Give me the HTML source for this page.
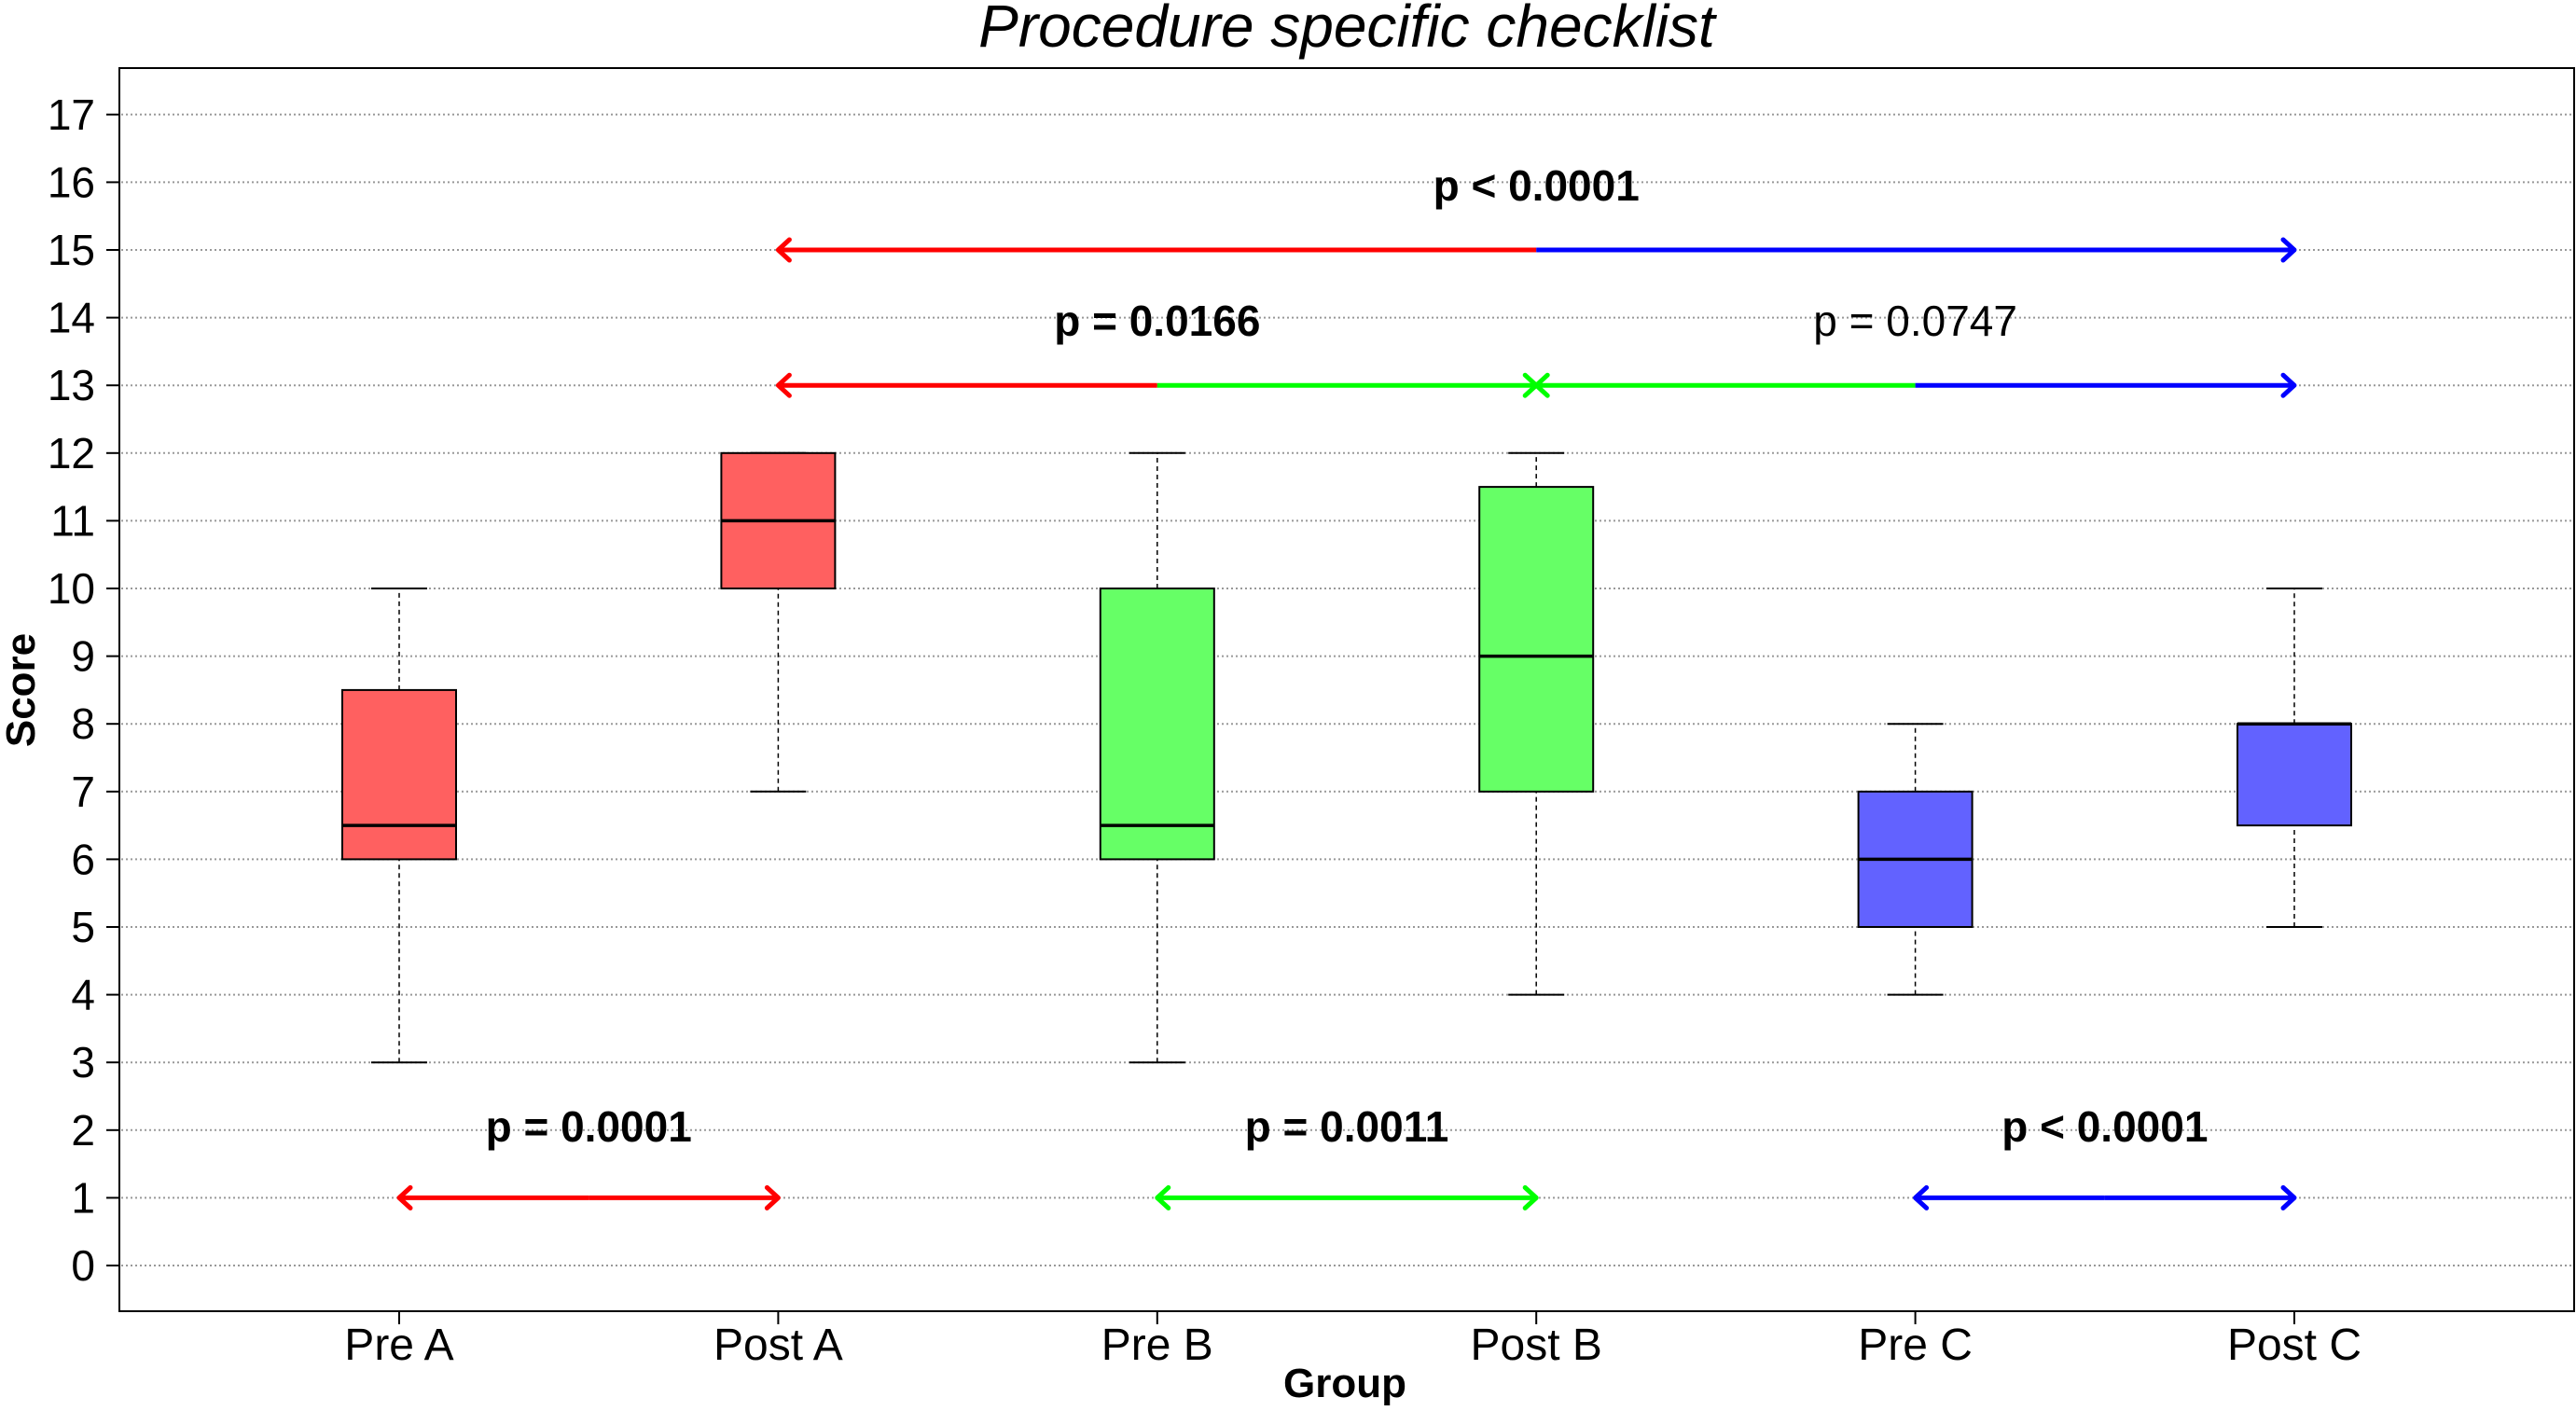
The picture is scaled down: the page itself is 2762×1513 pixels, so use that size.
<!DOCTYPE html>
<html><head><meta charset="utf-8"><style>
html,body{margin:0;padding:0;background:#fff;}
svg{display:block;font-family:"Liberation Sans",Arial,sans-serif;}
</style></head><body>
<svg id="chart" width="2762" height="1513" viewBox="0 0 2762 1513">
<text x="1444" y="50" font-size="64" font-style="italic" text-anchor="middle">Procedure specific checklist</text>
<g id="grid"></g>
<g id="yaxis"></g>
<g id="xaxis"></g>
<g id="boxes"></g>
<g id="arrows"></g>
<rect x="128" y="73" width="2632" height="1333" fill="none" stroke="#000" stroke-width="2"/>
<text x="1442" y="1498" font-size="44" font-weight="bold" text-anchor="middle">Group</text>
<text transform="translate(37,740) rotate(-90)" font-size="44" font-weight="bold" text-anchor="middle">Score</text>
</svg>
<script>
const categories=["Pre A","Post A","Pre B","Post B","Pre C","Post C"];
const whiskerLow=[3,7,3,4,4,5];
const q1=[6,10,6,7,5,6.5];
const medians=[6.5,11,6.5,9,6,8];
const q3=[8.5,12,10,11.5,7,8];
const whiskerHigh=[10,12,12,12,8,10];
const boxColors=["#ff6060","#ff6060","#66ff66","#66ff66","#6262ff","#6262ff"];
const yTicks=[0,1,2,3,4,5,6,7,8,9,10,11,12,13,14,15,16,17];
const cmpFrom=[0,2,4,1,3,1];
const cmpTo=[1,3,5,3,5,5];
const cmpY=[1,1,1,13,13,15];
const cmpLabels=["p = 0.0001","p = 0.0011","p < 0.0001","p = 0.0166","p = 0.0747","p < 0.0001"];
const cmpBold=[true,true,true,true,false,true];
const cmpLabelY=[2.05,2.05,2.05,13.95,13.95,15.95];

const NS="http://www.w3.org/2000/svg";
const X=i=>428+i*406.4;
const Y=v=>1357-v*72.6;
function mk(parent,tag,attrs){const e=document.createElementNS(NS,tag);for(const k in attrs)e.setAttribute(k,attrs[k]);parent.appendChild(e);return e;}
const grid=document.getElementById('grid'),ya=document.getElementById('yaxis'),xa=document.getElementById('xaxis'),bx=document.getElementById('boxes'),ar=document.getElementById('arrows');
yTicks.forEach(t=>{
  const g=mk(grid,'line',{x1:130,x2:2758,y1:Y(t),y2:Y(t),stroke:'#999','stroke-width':2,'stroke-dasharray':'2,3'});
  
  
  const tk=mk(ya,'line',{x1:114,x2:128,y1:Y(t),y2:Y(t),stroke:'#000','stroke-width':2});
  
  
  const tx=mk(ya,'text',{x:102,y:Y(t)+16,'font-size':46,'text-anchor':'end'});
  tx.textContent=t;
  
  
});
categories.forEach((c,i)=>{
  const x=X(i);
  const tk=mk(xa,'line',{x1:x,x2:x,y1:1406,y2:1420,stroke:'#000','stroke-width':2});
  
  
  const tx=mk(xa,'text',{x:x,y:1458,'font-size':48,'text-anchor':'middle'});
  tx.textContent=c;
  
  
  const g=mk(bx,'g',{});
  
  
  mk(g,'line',{x1:x,x2:x,y1:Y(whiskerLow[i]),y2:Y(q1[i]),stroke:'#000','stroke-width':1.5,'stroke-dasharray':'5,4'});
  mk(g,'line',{x1:x,x2:x,y1:Y(q3[i]),y2:Y(whiskerHigh[i]),stroke:'#000','stroke-width':1.5,'stroke-dasharray':'5,4'});
  mk(g,'line',{x1:x-30,x2:x+30,y1:Y(whiskerLow[i]),y2:Y(whiskerLow[i]),stroke:'#000','stroke-width':2});
  mk(g,'line',{x1:x-30,x2:x+30,y1:Y(whiskerHigh[i]),y2:Y(whiskerHigh[i]),stroke:'#000','stroke-width':2});
  mk(g,'rect',{x:x-61,y:Y(q3[i]),width:122,height:Y(q1[i])-Y(q3[i]),fill:boxColors[i],stroke:'#000','stroke-width':2});
  mk(g,'line',{x1:x-61,x2:x+61,y1:Y(medians[i]),y2:Y(medians[i]),stroke:'#000','stroke-width':3.5});
});
const lineCols=["#ff0000","#ff0000","#00ff00","#00ff00","#0000ff","#0000ff"];
function arrowHead(g,x,y,dir,col){mk(g,'polyline',{points:`${x-dir*12},${y-11} ${x},${y} ${x-dir*12},${y+11}`,fill:'none',stroke:col,'stroke-width':5,'stroke-linecap':'round','stroke-linejoin':'round'});}
cmpFrom.forEach((a,k)=>{
  const b=cmpTo[k],y=Y(cmpY[k]),x1=X(a),x2=X(b),mid=(x1+x2)/2;
  const g=mk(ar,'g',{});
  
  
  mk(g,'line',{x1:x1,x2:mid,y1:y,y2:y,stroke:lineCols[a],'stroke-width':5});
  mk(g,'line',{x1:mid,x2:x2,y1:y,y2:y,stroke:lineCols[b],'stroke-width':5});
  arrowHead(g,x1,y,-1,lineCols[a]);
  arrowHead(g,x2,y,1,lineCols[b]);
  const t=mk(g,'text',{x:mid,y:Y(cmpLabelY[k])+16,'font-size':46,'text-anchor':'middle','font-weight':cmpBold[k]?'bold':'normal'});
  t.textContent=cmpLabels[k];
  
  
});
</script>
</body></html>
